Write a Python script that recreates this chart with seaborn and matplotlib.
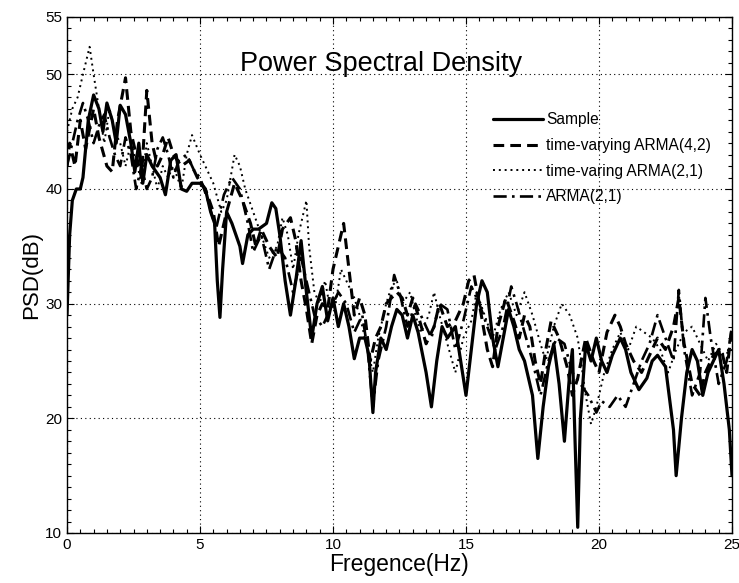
import numpy as np
import pandas as pd
import matplotlib
matplotlib.use("Agg")
import matplotlib.pyplot as plt
import seaborn as sns
from matplotlib.ticker import MultipleLocator

# ---- data ----
sample_f = [0.0, 0.1, 0.2, 0.35, 0.5, 0.6, 0.8, 1.0, 1.2, 1.35, 1.5, 1.7, 1.85, 2.0, 2.2, 2.4, 2.55, 2.7, 2.85, 3.0,
            3.2, 3.5, 3.7, 3.9, 4.1, 4.3, 4.5, 4.7, 5.0, 5.2, 5.4, 5.55, 5.65, 5.75, 5.85, 6.0, 6.2, 6.5, 6.6, 6.8,
            7.0, 7.2, 7.5, 7.7, 7.85, 8.0, 8.2, 8.4, 8.6, 8.8, 9.0, 9.2, 9.4, 9.6, 9.8, 10.0, 10.2, 10.4, 10.6, 10.8,
            11.0, 11.2, 11.35, 11.5, 11.6, 11.8, 12.0, 12.2, 12.4, 12.6, 12.8, 13.0, 13.2, 13.5, 13.7, 13.9, 14.1, 14.3, 14.6, 14.8,
            15.0, 15.2, 15.4, 15.6, 15.8, 16.0, 16.2, 16.4, 16.6, 16.8, 17.0, 17.2, 17.5, 17.7, 17.9, 18.1, 18.3, 18.5, 18.7, 18.9,
            19.0, 19.1, 19.2, 19.3, 19.5, 19.7, 19.9, 20.1, 20.3, 20.5, 20.8, 21.0, 21.2, 21.5, 21.8, 22.0, 22.2, 22.5, 22.8, 22.9,
            23.1, 23.3, 23.5, 23.7, 23.9, 24.1, 24.3, 24.5, 24.7, 24.9, 25.0]
sample_v = [29.0, 36.0, 39.0, 40.0, 40.0, 41.0, 46.0, 48.2, 47.0, 45.0, 47.5, 46.0, 44.0, 47.3, 46.5, 44.0, 41.5, 44.0, 40.5, 43.0,
            42.0, 41.0, 39.5, 42.5, 43.0, 40.0, 39.8, 40.5, 40.5, 40.0, 38.0, 37.0, 32.0, 28.8, 33.0, 38.0, 37.0, 35.0, 33.5, 36.0,
            36.5, 36.5, 37.0, 38.8, 38.3, 36.0, 32.0, 29.0, 32.0, 35.5, 31.0, 27.0, 30.0, 31.5, 28.5, 30.5, 28.0, 30.0, 28.0, 25.2,
            27.0, 27.0, 25.5, 20.5, 24.0, 27.0, 26.0, 28.0, 29.5, 29.0, 27.0, 29.0, 27.5, 24.0, 21.0, 25.0, 28.0, 27.0, 28.0, 25.0,
            22.0, 26.0, 30.0, 32.0, 31.0, 27.0, 24.5, 27.0, 29.5, 28.0, 26.0, 25.0, 22.0, 16.5, 21.0, 24.5, 26.5, 23.0, 18.0, 24.0,
            26.0, 18.0, 10.5, 20.0, 26.5, 25.0, 27.0, 25.0, 24.0, 25.5, 27.0, 26.0, 24.0, 22.5, 23.5, 25.0, 25.5, 24.5, 19.0, 15.0,
            20.0, 24.0, 26.0, 25.0, 22.0, 24.0, 25.0, 26.0, 23.0, 19.0, 15.0]

tv42_f = [0.0, 0.1, 0.3, 0.5, 0.7, 1.0, 1.2, 1.5, 1.7, 1.9, 2.2, 2.4, 2.6, 2.8, 3.0, 3.2, 3.4, 3.6, 3.8, 4.0,
          4.3, 4.6, 4.9, 5.2, 5.5, 5.7, 6.0, 6.3, 6.6, 6.9, 7.1, 7.3, 7.6, 7.9, 8.1, 8.4, 8.6, 8.8, 9.0, 9.2,
          9.4, 9.6, 9.8, 10.0, 10.4, 10.6, 10.8, 11.0, 11.2, 11.4, 11.6, 11.8, 12.0, 12.2, 12.4, 12.6, 12.8, 13.0, 13.2, 13.5,
          13.8, 14.0, 14.3, 14.6, 14.9, 15.1, 15.3, 15.5, 15.8, 16.0, 16.2, 16.5, 16.8, 17.0, 17.2, 17.4, 17.6, 17.8, 18.0, 18.2,
          18.5, 18.8, 19.0, 19.2, 19.5, 19.8, 20.0, 20.3, 20.6, 20.8, 21.0, 21.3, 21.6, 21.9, 22.2, 22.5, 22.8, 23.0, 23.2, 23.5,
          23.8, 24.0, 24.3, 24.6, 24.8, 25.0]
tv42_v = [42.0, 44.0, 42.0, 46.0, 43.5, 47.0, 44.5, 42.0, 41.5, 46.0, 49.7, 45.0, 43.0, 41.0, 48.6, 44.0, 42.0, 43.0, 44.5, 43.0,
          42.0, 42.5, 41.0, 40.0, 38.0, 35.0, 38.0, 40.5, 39.0, 37.0, 35.0, 36.5, 35.0, 34.0, 36.5, 37.5, 35.5, 32.0, 29.5, 26.5,
          29.0, 30.0, 29.5, 33.0, 37.0, 33.0, 29.0, 30.5, 29.0, 25.0, 27.0, 28.0, 30.0, 30.5, 31.0, 30.5, 29.0, 30.5, 29.0, 26.5,
          28.0, 30.0, 28.0, 28.5, 30.0, 32.0, 32.5, 30.0, 26.0, 24.5, 28.0, 30.5, 28.5, 27.0, 29.0, 28.0, 25.0, 23.0, 26.0, 28.5,
          27.0, 24.5, 22.0, 23.5, 27.0, 25.0, 24.0, 27.5, 29.0, 28.0, 26.5, 25.0, 24.0, 25.5, 27.0, 26.0, 28.0, 30.5, 26.5, 23.0,
          22.0, 24.0, 25.5, 26.0, 24.0, 28.0]

tv21_f = [0.0, 0.2, 0.4, 0.6, 0.85, 1.0, 1.2, 1.4, 1.6, 1.8, 2.0, 2.2, 2.4, 2.6, 2.8, 3.0, 3.2, 3.4, 3.6, 3.8,
          4.0, 4.3, 4.5, 4.7, 5.0, 5.2, 5.5, 5.8, 6.0, 6.3, 6.5, 6.7, 7.0, 7.3, 7.6, 7.9, 8.1, 8.3, 8.5, 8.7,
          9.0, 9.1, 9.3, 9.5, 9.7, 9.9, 10.1, 10.3, 10.5, 10.8, 11.0, 11.2, 11.5, 11.7, 12.0, 12.2, 12.4, 12.6, 12.9, 13.1,
          13.3, 13.6, 13.8, 14.0, 14.3, 14.6, 14.9, 15.2, 15.4, 15.7, 16.0, 16.3, 16.6, 16.9, 17.2, 17.5, 17.8, 18.0, 18.3, 18.6,
          18.9, 19.2, 19.5, 19.7, 19.9, 20.2, 20.5, 20.8, 21.1, 21.4, 21.7, 22.0, 22.3, 22.6, 22.9, 23.2, 23.5, 23.8, 24.1, 24.4,
          24.7, 25.0]
tv21_v = [45.0, 47.0, 48.0, 50.0, 52.4, 50.0, 47.0, 44.0, 47.0, 45.0, 44.0, 42.0, 44.0, 42.5, 40.5, 44.0, 42.0, 40.0, 42.0, 41.0,
          42.0, 40.0, 43.0, 44.7, 43.0, 42.0, 40.5, 38.0, 39.0, 43.0, 42.0, 40.0, 38.0, 36.0, 34.0, 35.0, 37.5, 36.0, 33.0, 36.0,
          39.0, 35.0, 31.0, 30.0, 32.0, 29.5, 30.0, 33.0, 32.0, 30.5, 29.0, 27.0, 24.0, 27.0, 30.0, 31.5, 32.0, 30.0, 31.0, 29.0,
          27.5, 29.0, 31.0, 29.0, 26.5, 24.0, 27.0, 28.5, 31.0, 29.0, 27.0, 29.5, 31.0, 29.0, 31.0, 29.0, 26.5, 25.0, 28.0, 30.0,
          29.0, 27.0, 22.0, 19.5, 21.0, 24.0, 26.0, 27.5, 26.0, 28.0, 27.5, 27.0, 26.0, 24.0, 26.0, 27.5, 28.0, 26.5, 25.0, 26.5,
          25.5, 26.0]

arma_f = [0.0, 0.2, 0.4, 0.6, 0.8, 1.0, 1.2, 1.4, 1.6, 1.8, 2.0, 2.2, 2.4, 2.6, 2.8, 3.0, 3.2, 3.4, 3.6, 3.8,
          4.0, 4.2, 4.5, 4.8, 5.0, 5.3, 5.6, 5.9, 6.2, 6.5, 6.8, 7.0, 7.3, 7.6, 7.9, 8.2, 8.5, 8.8, 9.0, 9.3,
          9.6, 9.9, 10.2, 10.5, 10.8, 11.1, 11.3, 11.5, 11.7, 12.0, 12.3, 12.5, 12.8, 13.1, 13.4, 13.7, 14.0, 14.3, 14.6, 14.9,
          15.2, 15.5, 15.8, 16.1, 16.4, 16.7, 16.9, 17.2, 17.5, 17.8, 18.1, 18.4, 18.7, 19.0, 19.3, 19.6, 19.9, 20.1, 20.4, 20.7,
          21.0, 21.3, 21.6, 21.9, 22.2, 22.5, 22.8, 23.0, 23.2, 23.5, 23.8, 24.0, 24.2, 24.5, 24.8, 25.0]
arma_v = [42.0, 44.0, 46.0, 47.5, 46.0, 44.0, 45.5, 46.5, 44.5, 43.0, 42.0, 44.5, 43.0, 40.0, 42.0, 40.0, 41.0, 43.5, 44.5, 43.0,
          41.0, 42.5, 43.0, 41.5, 41.0, 39.0, 36.5, 39.5, 41.0, 40.0, 37.0, 34.5, 36.0, 33.0, 35.0, 34.0, 31.0, 34.0, 32.0, 29.0,
          28.0, 29.5, 31.0, 30.0, 27.5, 29.0, 26.0, 21.0, 25.0, 28.0, 32.5, 31.0, 28.0, 30.0, 28.5, 27.0, 30.0, 29.5, 26.0, 28.5,
          31.5, 30.0, 28.0, 26.0, 28.0, 31.5, 30.0, 27.5, 25.0, 22.0, 25.0, 27.0, 26.5, 24.0, 23.0, 22.0, 20.5, 21.5, 21.0, 22.0,
          21.0, 23.0, 25.0, 26.5, 29.0, 27.0, 25.0, 31.2, 26.0, 22.0, 24.0, 30.5, 27.0, 23.0, 25.0, 28.0]

labels = ["Sample", "time-varying ARMA(4,2)", "time-varing ARMA(2,1)", "ARMA(2,1)"]
x_ticks = [0, 5, 10, 15, 20, 25]
y_ticks = [10, 20, 30, 40, 50, 55]

# ---- plotting ----
sns.set_style("ticks")
plt.rcParams['font.family'] = ['Liberation Sans', 'DejaVu Sans']
plt.rcParams['text.color'] = 'black'
plt.rcParams['axes.labelcolor'] = 'black'

fig = plt.figure(figsize=(7.39, 5.83), dpi=100)
ax = fig.add_axes([67/739, 1 - 533/583, (732-67)/739, (533-17)/583])

series = [(sample_f, sample_v, '-', 2.3),
          (tv42_f, tv42_v, (0, (3.5, 2.0)), 2.2),
          (tv21_f, tv21_v, (0, (1, 2)), 1.4),
          (arma_f, arma_v, (0, (5, 2, 1, 2)), 1.9)]
for (xs, ys, ls, lw), lab in zip(series, labels):
    sns.lineplot(x=xs, y=ys, ax=ax, color='black', linestyle=ls, linewidth=lw, label=lab,
                 estimator=None, sort=False)

ax.set_xlim(0, 25)
ax.set_ylim(10, 55)
ax.set_xticks(x_ticks)
ax.set_yticks(y_ticks)
ax.xaxis.set_minor_locator(MultipleLocator(0.5))
ax.yaxis.set_minor_locator(MultipleLocator(1))
ax.tick_params(which='both', direction='in', top=True, right=True, labelsize=11, colors='black')
ax.tick_params(which='major', length=5, width=0.8)
ax.tick_params(which='minor', length=3, width=0.8)
for s in ax.spines.values():
    s.set_visible(True)
    s.set_linewidth(1.0)
    s.set_color('black')
ax.grid(True, which='major', linestyle=(0, (1, 3)), color='black', linewidth=0.8)

ax.set_xlabel("Fregence(Hz)", fontsize=16.5, labelpad=1, color='black')
ax.set_ylabel("PSD(dB)", fontsize=16, labelpad=2, color='black')

ax.text(11.8, 50.25, "Power Spectral Density", ha='center', va='baseline', fontsize=19.5, color='black')

leg = ax.legend(loc='upper left', bbox_to_anchor=(0.641, 0.815), frameon=False, fontsize=11.2,
                handlelength=3.2, handletextpad=0.2, labelspacing=0.68, borderpad=0, borderaxespad=0)
for t in leg.get_texts():
    t.set_color('black')

fig.savefig("out.png", dpi=100)
